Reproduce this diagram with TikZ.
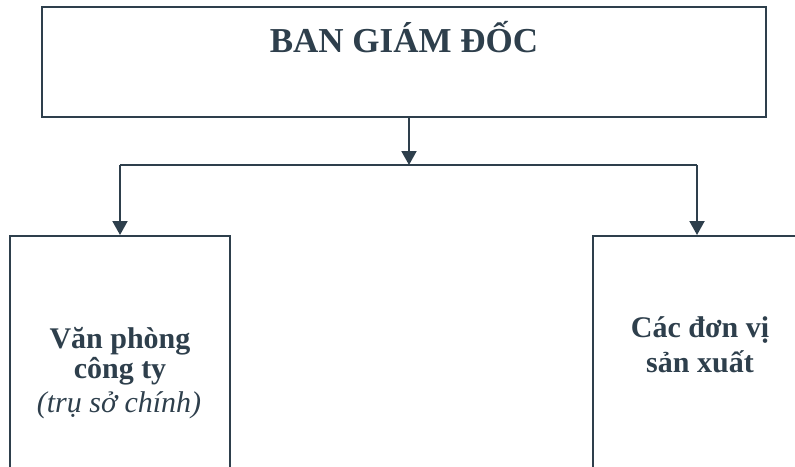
\documentclass[tikz,border=0pt]{standalone}
\usepackage{fontspec}
\setmainfont{Liberation Serif}
\usetikzlibrary{arrows.meta}
\definecolor{ink}{HTML}{2E3F4C}
\begin{document}
\begin{tikzpicture}[x=1pt,y=1pt,
  box/.style={draw=ink,line width=2pt,inner sep=0pt,anchor=north west},
  lbl/.style={text=ink,anchor=base,inner sep=0pt,font=\bfseries\fontsize{30}{30}\selectfont},
  ilbl/.style={text=ink,anchor=base,inner sep=0pt,font=\itshape\fontsize{30}{30}\selectfont},
  conn/.style={draw=ink,line width=2pt},
  arr/.style={conn,-{Triangle[width=15pt,length=14pt]}}]
\useasboundingbox (0,0) rectangle (795,-466);
\clip (0,0) rectangle (795,-466);
% boxes
\node[box,minimum width=724.5pt,minimum height=110.5pt] (bgd) at (40.5,-5.5) {};
\node[box,minimum width=220pt,minimum height=260pt] (vp) at (9,-235) {};
\node[box,minimum width=230pt,minimum height=260pt] (dv) at (592,-235) {};
% texts
\node[lbl,font=\bfseries\fontsize{35}{35}\selectfont] (t1) at (404,-52) {BAN GIÁM ĐỐC};
\node[lbl] (t2) at (120,-348) {Văn phòng};
\node[lbl] (t3) at (120,-378) {công ty};
\node[ilbl] (t4) at (119,-412) {(trụ sở chính)};
\node[lbl] (t5) at (700,-337) {Các đơn vị};
\node[lbl] (t6) at (700,-372) {sản xuất};
% connectors
\coordinate (j) at (409,-165);
\coordinate (jl) at (120,-165);
\coordinate (jr) at (697,-165);
\draw[arr] (j |- bgd.south) -- (j);
\draw[conn] (jl) -- (jr);
\draw[arr] (jl) -- (jl |- vp.north);
\draw[arr] (jr) -- (jr |- dv.north);
\end{tikzpicture}
\end{document}
